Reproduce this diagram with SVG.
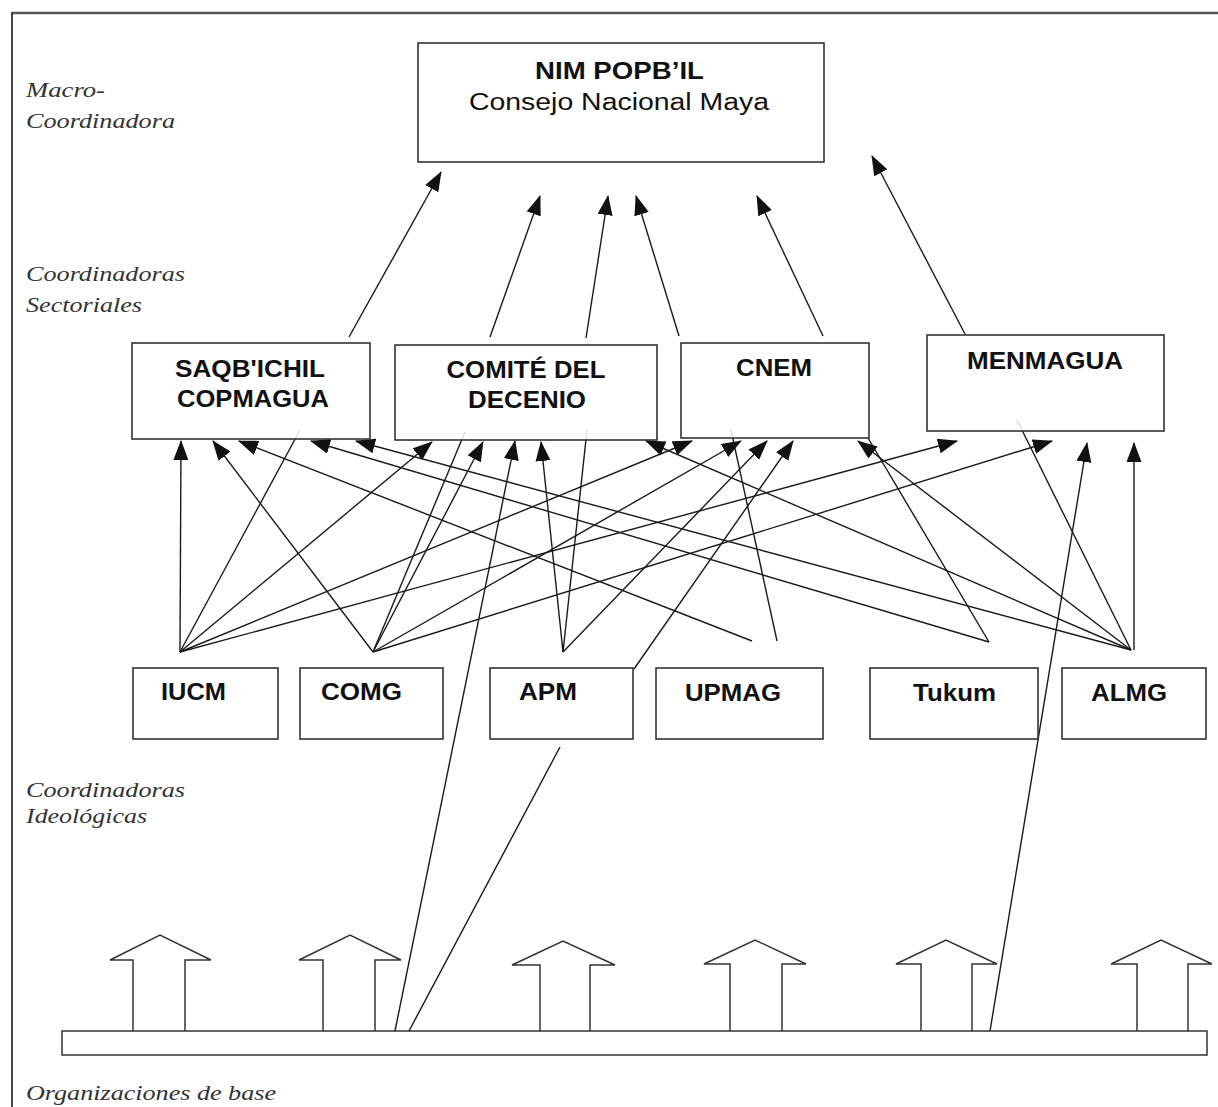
<svg xmlns="http://www.w3.org/2000/svg" width="1218" height="1107" viewBox="0 0 1218 1107">
<defs>
<marker id="ah" markerUnits="userSpaceOnUse" markerWidth="20" markerHeight="15" viewBox="0 0 20 15" refX="19" refY="7.5" orient="auto">
<path d="M0,0 L20,7.5 L0,15 z" fill="#111"/>
</marker>
<style>
.box{fill:#fff;stroke:#333;stroke-width:1.6}
.lb{font-family:"Liberation Sans",Arial,sans-serif;font-weight:bold;font-size:23px;fill:#111}
.lr{font-family:"Liberation Sans",Arial,sans-serif;font-size:23px;fill:#111}
.side{font-family:"Liberation Serif","Times New Roman",serif;font-style:italic;font-size:22px;fill:#333}
.c line{stroke:#1a1a1a;stroke-width:1.4}
.c .a{marker-end:url(#ah)}
.blk{fill:#fff;stroke:#333;stroke-width:1.5}
</style>
</defs>
<rect width="1218" height="1107" fill="#fff"/>
<g id="frame">
<line x1="12" y1="13" x2="1218" y2="13" stroke="#555" stroke-width="2.5"/>
<line x1="12" y1="12" x2="12" y2="1107" stroke="#444" stroke-width="2"/>
</g>
<g id="side-labels">
<text class="side" x="26" y="97" textLength="79" lengthAdjust="spacingAndGlyphs">Macro-</text>
<text class="side" x="26" y="128" textLength="149" lengthAdjust="spacingAndGlyphs">Coordinadora</text>
<text class="side" x="26" y="281" textLength="159" lengthAdjust="spacingAndGlyphs">Coordinadoras</text>
<text class="side" x="26" y="312" textLength="116" lengthAdjust="spacingAndGlyphs">Sectoriales</text>
<text class="side" x="26" y="797" textLength="159" lengthAdjust="spacingAndGlyphs">Coordinadoras</text>
<text class="side" x="26" y="823" textLength="121" lengthAdjust="spacingAndGlyphs">Ideológicas</text>
<text class="side" x="26" y="1100" textLength="250" lengthAdjust="spacingAndGlyphs">Organizaciones de base</text>
</g>
<g id="base">
<g id="base-arrows">
<path class="blk" d="M133,1031 V960 H110 L160,935 L211,960 H185 V1031"/>
<path class="blk" d="M323,1031 V960 H299 L350,935 L401,960 H375 V1031"/>
<path class="blk" d="M540,1031 V965 H512 L563,941 L615,965 H590 V1031"/>
<path class="blk" d="M730,1031 V964 H704 L755,940 L806,964 H782 V1031"/>
<path class="blk" d="M921,1031 V964 H896 L946,940 L997,964 H972 V1031"/>
<path class="blk" d="M1137,1031 V964 H1111 L1161,940 L1212,964 H1188 V1031"/>
</g>
<rect id="base-bar" class="blk" x="62" y="1031" width="1145" height="24"/>
</g>
<g id="connectors" class="c">
<line class="a" x1="349" y1="337" x2="441" y2="172"/>
<line class="a" x1="490" y1="337" x2="540" y2="196"/>
<line class="a" x1="586" y1="338" x2="608" y2="196"/>
<line class="a" x1="679" y1="336" x2="636" y2="196"/>
<line class="a" x1="823" y1="336" x2="757" y2="196"/>
<line class="a" x1="965" y1="334" x2="872" y2="156"/>
<line class="a" x1="180" y1="652" x2="181" y2="441"/>
<line x1="180" y1="652" x2="300" y2="430"/>
<line class="a" x1="180" y1="652" x2="432" y2="442"/>
<line class="a" x1="180" y1="652" x2="692" y2="441"/>
<line class="a" x1="180" y1="652" x2="957" y2="441"/>
<line class="a" x1="373" y1="652" x2="213" y2="441"/>
<line x1="373" y1="652" x2="465" y2="432"/>
<line class="a" x1="373" y1="652" x2="483" y2="442"/>
<line class="a" x1="373" y1="652" x2="741" y2="441"/>
<line class="a" x1="373" y1="652" x2="1052" y2="441"/>
<line class="a" x1="563" y1="652" x2="541" y2="442"/>
<line x1="563" y1="652" x2="587" y2="430"/>
<line class="a" x1="563" y1="652" x2="767" y2="441"/>
<line class="a" x1="634" y1="669" x2="793" y2="441"/>
<line class="a" x1="752" y1="641" x2="239" y2="441"/>
<line x1="731" y1="430" x2="777" y2="641"/>
<line class="a" x1="989" y1="642" x2="311" y2="441"/>
<line x1="868" y1="438" x2="989" y2="642"/>
<line class="a" x1="1131" y1="650" x2="356" y2="441"/>
<line class="a" x1="1131" y1="650" x2="646" y2="441"/>
<line class="a" x1="1131" y1="650" x2="858" y2="441"/>
<line x1="1017" y1="420" x2="1131" y2="650"/>
<line class="a" x1="1134" y1="650" x2="1134" y2="443"/>
<line class="a" x1="395" y1="1031" x2="515" y2="441"/>
<line x1="409" y1="1031" x2="560" y2="747"/>
<line class="a" x1="990" y1="1031" x2="1087" y2="443"/>
</g>
<g id="node-nim">
<rect class="box" x="418" y="43" width="406" height="119"/>
<text class="lb" x="619.5" y="79" text-anchor="middle" textLength="169" lengthAdjust="spacingAndGlyphs">NIM POPB’IL</text>
<text class="lr" x="619" y="110" text-anchor="middle" textLength="300" lengthAdjust="spacingAndGlyphs">Consejo Nacional Maya</text>
</g>
<g id="node-saqbichil">
<rect class="box" x="132" y="343" width="238" height="96" fill-opacity="0.85"/>
<text class="lb" x="250" y="377" text-anchor="middle" textLength="150" lengthAdjust="spacingAndGlyphs">SAQB'ICHIL</text>
<text class="lb" x="253" y="407" text-anchor="middle" textLength="152" lengthAdjust="spacingAndGlyphs">COPMAGUA</text>
</g>
<g id="node-comite">
<rect class="box" x="395" y="345" width="262" height="95" fill-opacity="0.85"/>
<text class="lb" x="526" y="378" text-anchor="middle" textLength="159" lengthAdjust="spacingAndGlyphs">COMITÉ DEL</text>
<text class="lb" x="527" y="408" text-anchor="middle" textLength="118" lengthAdjust="spacingAndGlyphs">DECENIO</text>
</g>
<g id="node-cnem">
<rect class="box" x="681" y="343" width="188" height="95" fill-opacity="0.85"/>
<text class="lb" x="774" y="376" text-anchor="middle" textLength="76" lengthAdjust="spacingAndGlyphs">CNEM</text>
</g>
<g id="node-menmagua">
<rect class="box" x="927" y="335" width="237" height="96" fill-opacity="0.85"/>
<text class="lb" x="1045" y="369" text-anchor="middle" textLength="156" lengthAdjust="spacingAndGlyphs">MENMAGUA</text>
</g>
<g id="node-iucm">
<rect class="box" x="133" y="668" width="145" height="71"/>
<text class="lb" x="161" y="700" textLength="65" lengthAdjust="spacingAndGlyphs">IUCM</text>
</g>
<g id="node-comg">
<rect class="box" x="300" y="668" width="143" height="71"/>
<text class="lb" x="321" y="700" textLength="81" lengthAdjust="spacingAndGlyphs">COMG</text>
</g>
<g id="node-apm">
<rect class="box" x="490" y="668" width="143" height="71"/>
<text class="lb" x="519" y="700" textLength="58" lengthAdjust="spacingAndGlyphs">APM</text>
</g>
<g id="node-upmag">
<rect class="box" x="656" y="668" width="167" height="71"/>
<text class="lb" x="685" y="701" textLength="96" lengthAdjust="spacingAndGlyphs">UPMAG</text>
</g>
<g id="node-tukum">
<rect class="box" x="870" y="668" width="168" height="71"/>
<text class="lb" x="913" y="701" textLength="83" lengthAdjust="spacingAndGlyphs">Tukum</text>
</g>
<g id="node-almg">
<rect class="box" x="1062" y="668" width="144" height="71"/>
<text class="lb" x="1091" y="701" textLength="76" lengthAdjust="spacingAndGlyphs">ALMG</text>
</g>
</svg>
